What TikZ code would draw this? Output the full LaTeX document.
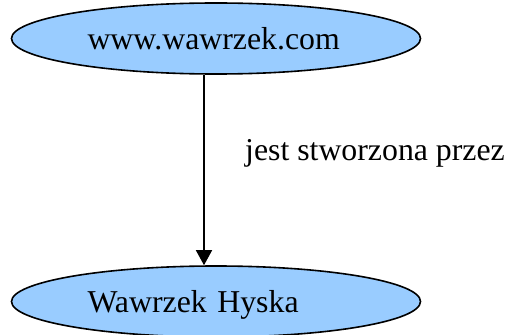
\documentclass[tikz,border=0pt]{standalone}
\usepackage{fontspec}
\setmainfont{Liberation Serif}
\usetikzlibrary{shapes.geometric,arrows.meta}
\definecolor{nodeblue}{HTML}{99CCFF}
\begin{document}
\begin{tikzpicture}[x=1pt,y=-1pt,
  ellnode/.style={ellipse,draw=black,line width=1.6pt,fill=nodeblue,
    minimum width=409pt,minimum height=71pt,inner sep=0pt,
    text width=257pt,align=left,
    font=\fontsize{31.8}{36}\selectfont,text height=22pt,text depth=0pt},
  lbl/.style={font=\fontsize{31.8}{36}\selectfont,inner sep=0pt,anchor=base west},
  conn/.style={line width=1.5pt,-{Triangle[width=16pt,length=15pt]}}]
\useasboundingbox (0,0) rectangle (510,334);
\node[ellnode] (site) at (216,38.5) {www.wawrzek.com};
\node[ellnode] (author) at (216,301.5) {Wawrzek Hyska};
\draw[conn] ([xshift=-12pt]site.south) -- ([xshift=-12pt]author.north);
\node[lbl] (rel) at (245,160) {jest stworzona przez};
\end{tikzpicture}
\end{document}
